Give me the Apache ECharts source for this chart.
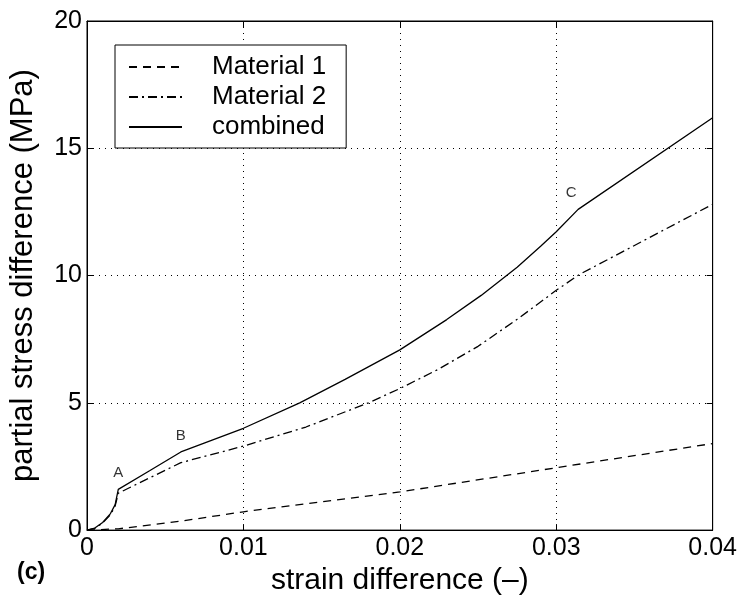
<!DOCTYPE html>
<html>
<head>
<meta charset="utf-8">
<script src="https://cdn.jsdelivr.net/npm/echarts@6/dist/echarts.min.js"></script>
<style>html,body{margin:0;padding:0;background:#fff}#c{width:740px;height:601px}</style>
</head>
<body>
<div id="c"></div>
<script>
// ---- data ----
var seriesNames = ['Material 1', 'Material 2', 'combined'];
var xTicks = [0, 0.01, 0.02, 0.03, 0.04];
var yTicks = [0, 5, 10, 15, 20];

var mat1X = [0, 0.002, 0.006, 0.01, 0.02, 0.03, 0.04];
var mat1Y = [0, 0.05, 0.35, 0.72, 1.5, 2.45, 3.4];

var mat2X = [0, 0.0005, 0.001, 0.0015, 0.0018, 0.002, 0.006, 0.01, 0.014, 0.018, 0.02, 0.0225, 0.025, 0.0275, 0.03, 0.0315, 0.04];
var mat2Y = [0, 0.07, 0.28, 0.6, 0.95, 1.45, 2.65, 3.3, 4.05, 5.0, 5.56, 6.33, 7.22, 8.28, 9.42, 10.05, 12.8];

var combX = [0, 0.0005, 0.001, 0.0015, 0.0018, 0.002, 0.004, 0.006, 0.01, 0.0136, 0.0165, 0.02, 0.023, 0.0252, 0.0275, 0.029, 0.03, 0.0314, 0.04];
var combY = [0, 0.08, 0.3, 0.65, 1.0, 1.6, 2.33, 3.07, 4.0, 5.0, 5.92, 7.08, 8.27, 9.22, 10.33, 11.15, 11.72, 12.6, 16.2];

var pointLabels = ['A', 'B', 'C'];
var pointX = [0.002, 0.006, 0.0314];
var pointY = [1.6, 3.07, 12.6];

function pairs(xs, ys) { return xs.map(function (x, i) { return [x, ys[i]]; }); }

var FONT = 'Liberation Sans, Arial, Helvetica, sans-serif';
var chart = echarts.init(document.getElementById('c'), null, { renderer: 'canvas' });

var gridLine = { show: true, lineStyle: { color: '#000', type: [1, 5], width: 1 } };

var option = {
  backgroundColor: '#fff',
  animation: false,
  grid: { left: 85, right: 27, top: 21, bottom: 66, show: true, borderColor: '#000', borderWidth: 1, backgroundColor: 'transparent' },
  legend: {
    orient: 'vertical', left: 115, top: 45,
    data: seriesNames,
    itemWidth: 53, itemHeight: 14, itemGap: 4,
    padding: [9, 20, 8, 13],
    borderColor: '#000', borderWidth: 1, backgroundColor: '#fff',
    itemStyle: { opacity: 0, borderWidth: 0 },
    textStyle: { fontFamily: FONT, fontSize: 26, color: '#000', lineHeight: 25, padding: [0, 0, 0, 25] },
    inactiveColor: '#000'
  },
  xAxis: [{
    type: 'value', min: 0, max: 0.04, interval: 0.01,
    name: 'strain difference (–)', nameLocation: 'middle', nameGap: 31,
    nameTextStyle: { fontFamily: FONT, fontSize: 30, color: '#000' },
    axisLine: { show: true, onZero: false, lineStyle: { color: '#000', width: 1 } },
    axisTick: { show: true, inside: true, length: 6, lineStyle: { color: '#000' } },
    axisLabel: { fontFamily: FONT, fontSize: 25, color: '#000', margin: 6,
      formatter: function (v) { return xTicks.indexOf(+v.toFixed(4)) >= 0 ? String(+v.toFixed(4)) : ''; } },
    splitLine: gridLine
  }, {
    type: 'value', min: 0, max: 0.04, interval: 0.01, position: 'top',
    axisLine: { show: true, onZero: false, lineStyle: { color: '#000' } },
    axisTick: { show: true, inside: true, length: 6, lineStyle: { color: '#000' } },
    axisLabel: { show: false }, splitLine: { show: false }
  }],
  yAxis: [{
    type: 'value', min: 0, max: 20, interval: 5,
    name: 'partial stress difference (MPa)', nameLocation: 'middle', nameGap: 48,
    nameTextStyle: { fontFamily: FONT, fontSize: 31, color: '#000' },
    axisLine: { show: true, onZero: false, lineStyle: { color: '#000', width: 1 } },
    axisTick: { show: true, inside: true, length: 6, lineStyle: { color: '#000' } },
    axisLabel: { fontFamily: FONT, fontSize: 25, color: '#000', margin: 5 },
    splitLine: gridLine
  }, {
    type: 'value', min: 0, max: 20, interval: 5, position: 'right',
    axisLine: { show: true, onZero: false, lineStyle: { color: '#000' } },
    axisTick: { show: true, inside: true, length: 6, lineStyle: { color: '#000' } },
    axisLabel: { show: false }, splitLine: { show: false }
  }],
  series: [
    { name: seriesNames[0], type: 'line', data: pairs(mat1X, mat1Y), showSymbol: false, symbol: 'none',
      lineStyle: { color: '#000', width: 1.3, type: [8, 6] }, itemStyle: { color: '#000' } },
    { name: seriesNames[1], type: 'line', data: pairs(mat2X, mat2Y), showSymbol: false, symbol: 'none',
      lineStyle: { color: '#000', width: 1.3, type: [9, 4, 2, 4] }, itemStyle: { color: '#000' } },
    { name: seriesNames[2], type: 'line', data: pairs(combX, combY), showSymbol: false, symbol: 'none',
      lineStyle: { color: '#000', width: 1.3, type: 'solid' }, itemStyle: { color: '#000' } },
    { name: 'labels', type: 'scatter', symbolSize: 0, silent: true,
      data: pointX.map(function (x, i) { return { value: [x, pointY[i]], name: pointLabels[i] }; }),
      label: { show: true, formatter: '{b}', position: 'top', distance: 9, fontFamily: FONT, fontSize: 15, color: '#000' } }
  ],
  graphic: [
    { type: 'text', left: 17, top: 561, style: { text: '(c)', font: 'bold 23px ' + FONT, fill: '#000' } }
  ]
};
// shift C label slightly left as in reference
option.series[3].data[2].label = { offset: [-7, 0] };
chart.setOption(option);
</script>
</body>
</html>
